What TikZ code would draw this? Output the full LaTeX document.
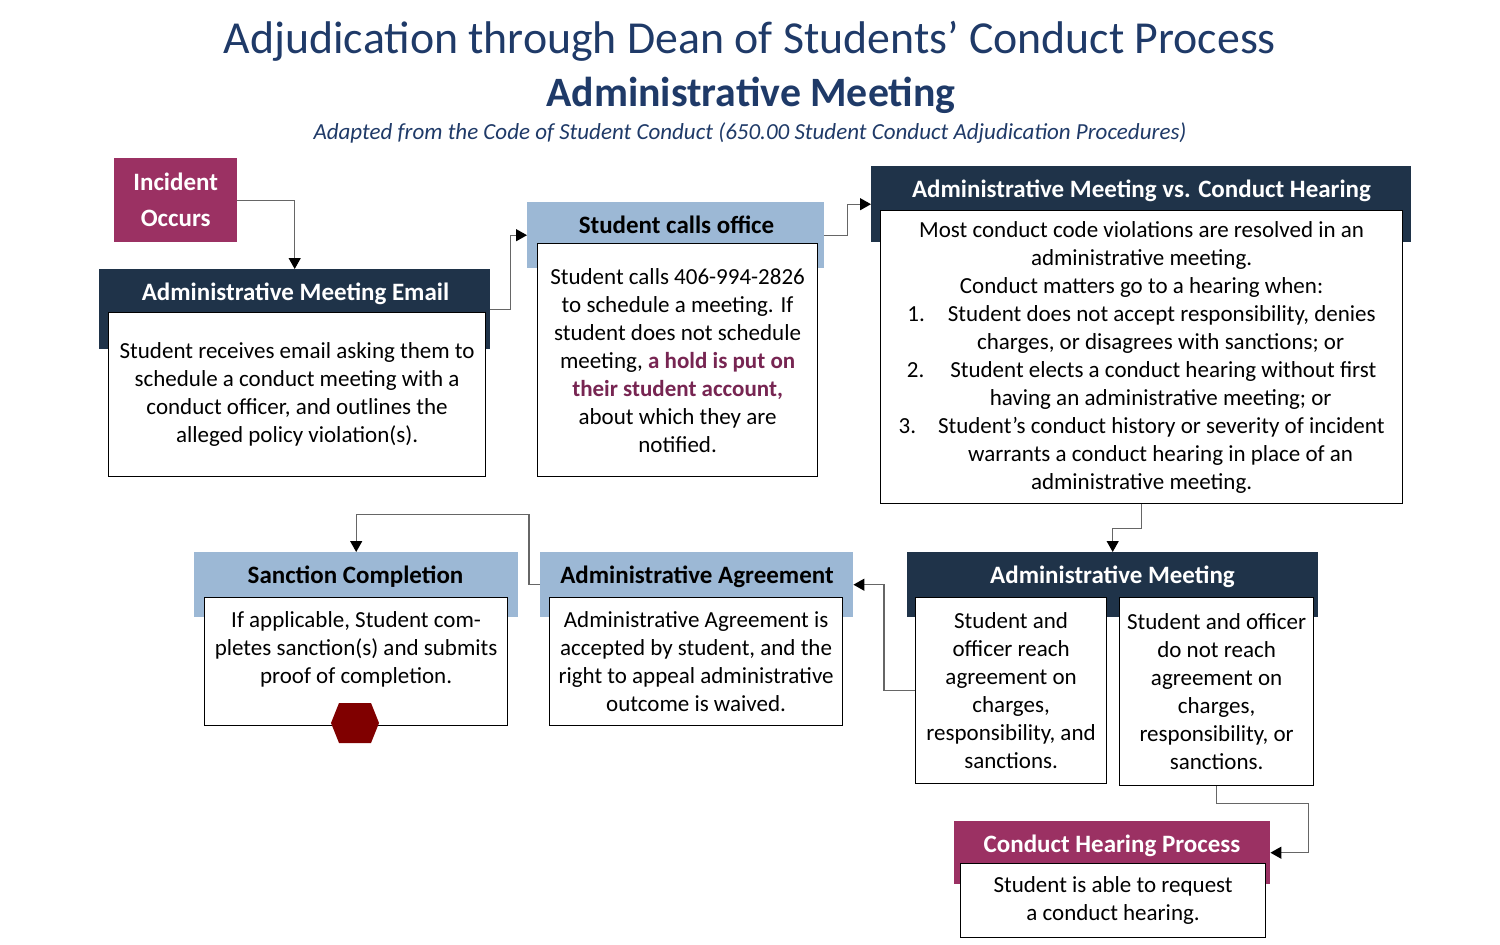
\documentclass[tikz,border=0pt]{standalone}
\usepackage{fontspec}
\setmainfont{Carlito}
\usetikzlibrary{arrows.meta,calc}
\definecolor{navy}{HTML}{1F3349}
\definecolor{lblue}{HTML}{9CB8D5}
\definecolor{mag}{HTML}{9B3163}
\definecolor{holdc}{HTML}{772552}
\definecolor{titleblue}{HTML}{1F3A68}
\definecolor{conngray}{HTML}{666666}
\definecolor{hexred}{HTML}{800000}
\newcommand\mybody{\fontsize{23}{28}\selectfont}
\newcommand\myhead{\fontsize{25}{30}\selectfont\bfseries}
\begin{document}
\begin{tikzpicture}[x=1pt,y=-1pt,
  hdr/.style={draw=none, inner sep=0pt, anchor=north west},
  navyhdr/.style={hdr, fill=navy},
  bluehdr/.style={hdr, fill=lblue},
  maghdr/.style={hdr, fill=mag},
  hdrtitle/.style={anchor=base, inner sep=0pt, font=\myhead},
  wtitle/.style={hdrtitle, text=white},
  box/.style={draw=black, line width=1.2pt, fill=white, inner sep=0pt, anchor=north west, align=center, font=\mybody},
  conn/.style={draw=conngray, line width=1.3pt, -{Triangle[length=11pt,width=12pt,color=black]}}
]
\fill[white] (0,0) rectangle (1500,945);
\useasboundingbox (0,0) rectangle (1500,945);

% titles
\node[anchor=base, inner sep=0pt, text=titleblue, font=\fontsize{45.8}{54}\selectfont] (title) at (750,53) {Adjudication through Dean of Students’ Conduct Process};
\node[anchor=base, inner sep=0pt, text=titleblue, font=\fontsize{41.8}{48}\selectfont\bfseries] (subtitle) at (751,106) {Administrative Meeting};
\node[anchor=base, inner sep=0pt, text=titleblue, font=\fontsize{23}{27}\selectfont\itshape] (source) at (750,139) {Adapted from the Code of Student Conduct (650.00 Student Conduct Adjudication Procedures)};

% incident
\node[hdr, fill=mag, minimum width=123pt, minimum height=84pt, align=center, text=white, font=\fontsize{25}{36}\selectfont\bfseries] (incident) at (114,158) {Incident\\Occurs};

% email
\node[navyhdr, minimum width=391pt, minimum height=80pt] (emailH) at (99,269) {};
\node[wtitle] (emailT) at (295.5,300) {Administrative Meeting Email};
\node[box, minimum width=377pt, minimum height=164pt] (emailB) at (108,312) {Student receives email asking them to\\schedule a conduct meeting with a\\conduct officer, and outlines the\\alleged policy violation(s).};

% student calls office
\node[bluehdr, minimum width=297pt, minimum height=66pt] (callsH) at (527,202) {};
\node[hdrtitle] (callsT) at (676.5,233) {Student calls office};
\node[box, minimum width=280pt, minimum height=233pt] (callsB) at (537,243) {Student calls 406-994-2826\\to schedule a meeting. If\\student does not schedule\\meeting, \textcolor{holdc}{\bfseries a hold is put on}\\\textcolor{holdc}{\bfseries their student account,}\\about which they are\\notified.};

% admin meeting vs conduct hearing
\node[navyhdr, minimum width=540pt, minimum height=76pt] (amchH) at (871,166) {};
\node[wtitle] (amchT) at (1141.5,197) {Administrative Meeting vs. Conduct Hearing};
\node[box, minimum width=522pt, minimum height=293pt] (amchB) at (880,210) {Most conduct code violations are resolved in an\\administrative meeting.\\Conduct matters go to a hearing when:\\1.\hspace{23pt}Student does not accept responsibility, denies\\\hspace*{38pt}charges, or disagrees with sanctions; or\\2.\hspace{26pt}Student elects a conduct hearing without first\\\hspace*{38pt}having an administrative meeting; or\\3.\hspace{22pt}Student’s conduct history or severity of incident\\\hspace*{38pt}warrants a conduct hearing in place of an\\administrative meeting.};

% administrative meeting
\node[navyhdr, minimum width=411pt, minimum height=65pt] (amH) at (907,552) {};
\node[wtitle] (amT) at (1112.5,583) {Administrative Meeting};
\node[box, minimum width=191pt, minimum height=186pt] (amL) at (915,597) {Student and\\officer reach\\agreement on\\charges,\\responsibility, and\\sanctions.};
\node[box, minimum width=194pt, minimum height=188pt] (amR) at (1119,597) {Student and officer\\do not reach\\agreement on\\charges,\\responsibility, or\\sanctions.};

% administrative agreement
\node[bluehdr, minimum width=313pt, minimum height=65pt] (agH) at (540,552) {};
\node[hdrtitle] (agT) at (697,583) {Administrative Agreement};
\node[box, minimum width=293pt, minimum height=128pt] (agB) at (549,597) {Administrative Agreement is\\accepted by student, and the\\right to appeal administrative\\outcome is waived.};

% sanction completion
\node[bluehdr, minimum width=324pt, minimum height=65pt] (sancH) at (194,552) {};
\node[hdrtitle] (sancT) at (355.5,583) {Sanction Completion};
\node[box, minimum width=303pt, minimum height=128pt] (sancB) at (204,597) {If applicable, Student com-\\pletes sanction(s) and submits\\proof of completion.\\\mbox{}};
\fill[hexred] (331,723) -- (339,703) -- (371,703) -- (379,723) -- (371,743) -- (339,743) -- cycle;

% conduct hearing process
\node[maghdr, minimum width=316pt, minimum height=63pt] (chH) at (954,821) {};
\node[wtitle] (chT) at (1112,852) {Conduct Hearing Process};
\node[box, minimum width=305pt, minimum height=74pt] (chB) at (960,863) {Student is able to request\\a conduct hearing.};

% connectors
\draw[conn] (incident.east) -| (emailH.north);
\draw[conn] (emailH.east) -- ++(20,0) |- (callsH.west);
\draw[conn] (callsH.east) -- ++(23,0) |- (amchH.west);
\draw[conn] (amchB.south) -- ++(0,24) -| (amH.north);
\draw[conn] (amL.west) -- ++(-31,0) |- (agH.east);
\draw[conn] (agH.west) -- ++(-11,0) -- ++(0,-70) -| (sancH.north);
\draw[conn] (amR.south) -- ++(0,17) -- ++(92,0) |- (chH.east);
\end{tikzpicture}
\end{document}
